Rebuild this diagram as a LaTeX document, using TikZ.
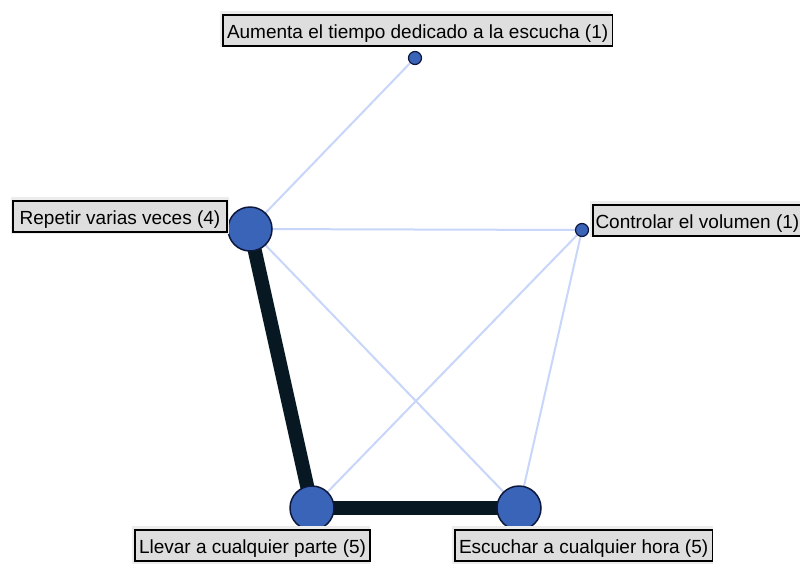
\documentclass[tikz,border=0pt]{standalone}
\usepackage{fontspec}
\setmainfont{Liberation Sans}
\definecolor{weakline}{RGB}{200,214,250}
\definecolor{strongline}{RGB}{8,24,34}
\definecolor{vertexfill}{RGB}{58,100,184}
\definecolor{vertexrim}{RGB}{14,24,60}
\definecolor{tagfill}{RGB}{222,222,222}
\definecolor{halofill}{RGB}{236,236,236}
\begin{document}
\begin{tikzpicture}[x=1pt,y=-1pt,
  weak/.style={draw=weakline, line width=2pt},
  strong/.style={draw=strongline, line width=14pt},
  bignode/.style={circle, fill=vertexfill, draw=vertexrim, line width=1.5pt, minimum size=44pt, inner sep=0pt},
  smallnode/.style={circle, fill=vertexfill, draw=vertexrim, line width=1.2pt, minimum size=13pt, inner sep=0pt},
  tag/.style={draw=black, line width=1.2pt, fill=tagfill, font=\fontsize{19}{22}\selectfont,
    text height=16.5pt, text depth=1.5pt, inner ysep=6.5pt, inner xsep=4pt, outer sep=0pt},
  halo/.style={fill=halofill, draw=none}
]
\useasboundingbox (0,0) rectangle (800,563);
\fill[white] (0,0) rectangle (800,563);

% graph vertices
\coordinate (pA) at (415,58);
\coordinate (pR) at (250,229);
\coordinate (pC) at (582,230);
\coordinate (pL) at (312,508);
\coordinate (pE) at (519,508);

% weak links
\draw[weak] (pA) -- (pR);
\draw[weak] (pR) -- (pC);
\draw[weak] (pR) -- (pE);
\draw[weak] (pC) -- (pL);
\draw[weak] (pC) -- (pE);

% strong links
\draw[strong] (pR) -- (pL);
\draw[strong] (pL) -- (pE);

% vertex markers
\node[smallnode] (a) at (pA) {};
\node[bignode] (r) at (pR) {};
\node[smallnode] (c) at (pC) {};
\node[bignode] (l) at (pL) {};
\node[bignode] (e) at (pE) {};

% label boxes with a light surround
\fill[halo] (220,11) rectangle (611,47);
\node[tag, anchor=north west, minimum width=385pt, align=center] (ta) at (223,15) {Aumenta el tiempo dedicado a la escucha (1)};

\fill[halo] (11,197) rectangle (229,234);
\node[tag, anchor=north west, minimum width=214pt] (tr) at (13,201) {Repetir varias veces (4)};

\fill[halo] (590,201) rectangle (805,237);
\node[tag, anchor=north west, inner xsep=2.5pt] (tc) at (593,205) {Controlar el volumen (1)};

\fill[halo] (132,526) rectangle (370,570);
\node[tag, anchor=north west, minimum width=232pt] (tl) at (135,530) {Llevar a cualquier parte (5)};

\fill[halo] (452,526) rectangle (713,570);
\node[tag, anchor=north west, minimum width=255pt] (te) at (455,530) {Escuchar a cualquier hora (5)};
\end{tikzpicture}
\end{document}
